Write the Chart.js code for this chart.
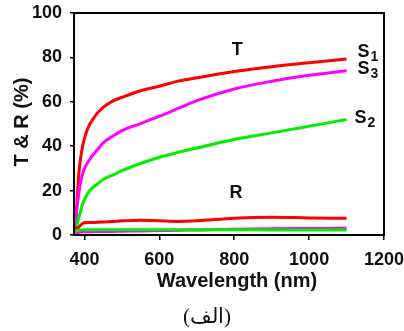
<!DOCTYPE html>
<html>
<head>
<meta charset="utf-8">
<script src="https://cdn.jsdelivr.net/npm/chart.js@4.4.0/dist/chart.umd.min.js"></script>
<style>
  html,body{margin:0;padding:0;background:#fff;}
  #wrap{position:relative;width:404px;height:331px;}
  #caption{position:absolute;left:147px;width:120px;top:304px;text-align:center;
    font:21px "Liberation Serif","DejaVu Serif",serif;color:#111;}
</style>
</head>
<body>
<div id="wrap">
  <canvas id="chart" width="404" height="331"></canvas>
  <div id="caption" dir="rtl">(الف)</div>
</div>
<script>
/* data */
const wavelengths = [375,380,385,390,395,400,410,420,435,450,475,500,550,600,650,700,800,900,1000,1100];

const s1T = [3,15,28,35,40,43.5,48.5,51.5,55,57.5,60.3,62,65,67,69.3,70.8,73.6,75.8,77.6,79.3];
const s3T = [2,12,19,24,27.5,30,33,35.5,38.5,41.5,44.5,47,50.2,53.5,57,60.5,65.8,69.3,72,74];
const s2T = [1.5,4.5,8,11,14,16,19,21,23,25,27,29,32.2,35,37.2,39.2,43,46,49,52];

const s1R = [3.6,2.8,3.5,4.5,5.2,5.5,5.6,5.6,5.7,5.9,6.1,6.4,6.7,6.4,6.1,6.4,7.6,8,7.7,7.5];
const s2R = [1.5,2,2.2,2.3,2.3,2.4,2.4,2.4,2.4,2.4,2.4,2.4,2.4,2.4,2.4,2.4,2.4,2.3,2.3,2.3];
const s3R = [0.8,1.1,1.2,1.3,1.4,1.5,1.5,1.5,1.6,1.6,1.6,1.7,1.8,2,2.1,2.3,2.6,2.8,2.9,3];

const xTicks = [400,600,800,1000,1200];

const FONT = "'Liberation Sans', Arial, sans-serif";

const pts = arr => arr.map((v,i)=>({x:wavelengths[i],y:v}));
const line = (data,color) => ({data:pts(data),borderColor:color,borderWidth:3,pointRadius:0,
  fill:false,cubicInterpolationMode:"monotone"});

/* labels, titles and box */
const extras = {
  id:"extras",
  afterDraw(chart){
    const {ctx,chartArea:a,scales:{x,y}} = chart;
    ctx.save();
    ctx.strokeStyle="#000";
    ctx.lineWidth=2;
    ctx.strokeRect(a.left,a.top,a.right-a.left,a.bottom-a.top);

    ctx.fillStyle="#111";
    ctx.font=`bold 20px ${FONT}`;
    ctx.textAlign="center";
    ctx.textBaseline="alphabetic";
    ctx.fillText("Wavelength (nm)",237,287);

    ctx.save();
    ctx.translate(28,122);
    ctx.rotate(-Math.PI/2);
    ctx.fillText("T & R (%)",0,0);
    ctx.restore();

    ctx.font=`bold 18px ${FONT}`;
    ctx.textBaseline="middle";
    ctx.fillText("T",x.getPixelForValue(808),y.getPixelForValue(83.3));
    ctx.fillText("R",x.getPixelForValue(805),y.getPixelForValue(18.9));

    const sub = (main,s,wl,val)=>{
      const px=x.getPixelForValue(wl), py=y.getPixelForValue(val);
      ctx.textAlign="left";
      ctx.textBaseline="alphabetic";
      ctx.font=`bold 18px ${FONT}`;
      ctx.fillText(main,px,py);
      const w=ctx.measureText(main).width;
      ctx.font=`bold 14px ${FONT}`;
      ctx.fillText(s,px+w+1,py+4);
    };
    sub("S","1",1129,80.2);
    sub("S","3",1129,72.5);
    sub("S","2",1121,50.5);
    ctx.restore();
  }
};

new Chart(document.getElementById("chart"),{
  type:"line",
  data:{datasets:[
    line(s2R,"#00ee00"),
    line(s3R,"#ff00ff"),
    line(s1R,"#ff0000"),
    line(s2T,"#00ee00"),
    line(s3T,"#ff00ff"),
    line(s1T,"#ff0000")
  ]},
  options:{
    responsive:false,
    animation:false,
    layout:{padding:{top:13,right:20,left:0,bottom:0}},
    plugins:{legend:{display:false},tooltip:{enabled:false}},
    scales:{
      x:{
        type:"linear",min:372,max:1200,
        afterBuildTicks:s=>{s.ticks=xTicks.map(v=>({value:v}));},
        // fixed band height, no extra side padding for the end labels
        afterFit:s=>{s.height=96;s.paddingLeft=0;s.paddingRight=0;},
        grid:{drawOnChartArea:false,drawTicks:true,tickLength:5,color:"#000",lineWidth:1.5},
        border:{color:"#000",width:2},
        ticks:{color:"#111",padding:9,maxRotation:0,callback:v=>String(v),
          font:{family:FONT,size:18,weight:"bold"}}
      },
      y:{
        min:0,max:100,
        afterFit:s=>{s.width=74;s.paddingTop=0;s.paddingBottom=0;},
        grid:{drawOnChartArea:false,drawTicks:true,tickLength:4,color:"#000",lineWidth:1.5},
        border:{color:"#000",width:2},
        ticks:{stepSize:20,color:"#111",padding:8,font:{family:FONT,size:18,weight:"bold"}}
      }
    }
  },
  plugins:[extras]
});
</script>
</body>
</html>
